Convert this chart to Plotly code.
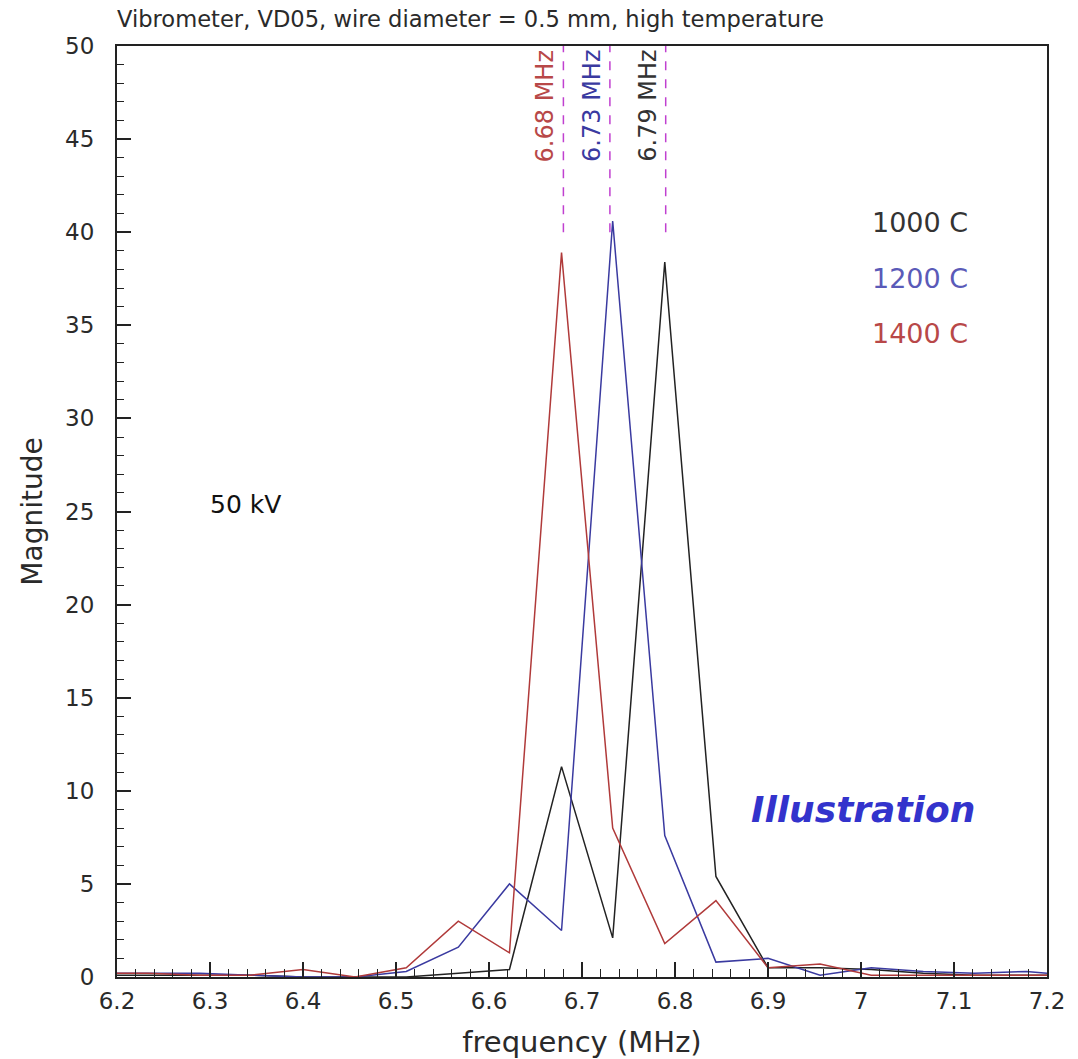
import plotly.graph_objects as go

freq = [6.2, 6.233, 6.289, 6.344, 6.4, 6.456, 6.511, 6.567, 6.622, 6.678, 6.733,
        6.789, 6.844, 6.9, 6.956, 7.011, 7.067, 7.122, 7.178, 7.2]
mag_1000 = [0.1, 0.1, 0.1, 0.1, 0.0, 0.0, 0.0, 0.2, 0.4, 11.3, 2.1, 38.4, 5.4,
            0.5, 0.5, 0.4, 0.2, 0.1, 0.1, 0.1]
mag_1200 = [0.2, 0.2, 0.2, 0.1, 0.0, 0.0, 0.3, 1.6, 5.0, 2.5, 40.6, 7.6, 0.8,
            1.0, 0.1, 0.5, 0.3, 0.2, 0.3, 0.2]
mag_1400 = [0.2, 0.2, 0.1, 0.1, 0.4, 0.0, 0.5, 3.0, 1.3, 38.9, 8.0, 1.8, 4.1,
            0.5, 0.7, 0.1, 0.1, 0.1, 0.1, 0.1]

series_names = ["1000 C", "1200 C", "1400 C"]
series_colors = ["#222222", "#3a3aa0", "#b03a3a"]
label_colors = ["#333333", "#5a5ab8", "#b84848"]

peak_freqs = [6.68, 6.73, 6.79]
peak_labels = ["6.68 MHz", "6.73 MHz", "6.79 MHz"]
peak_colors = ["#b84848", "#3a3aa0", "#333333"]

x_ticks = [6.2, 6.3, 6.4, 6.5, 6.6, 6.7, 6.8, 6.9, 7.0, 7.1, 7.2]
x_ticktext = ["6.2", "6.3", "6.4", "6.5", "6.6", "6.7", "6.8", "6.9", "7", "7.1", "7.2"]

FONT = "DejaVu Sans, Verdana, sans-serif"
TXT = "#2a2a2a"

fig = go.Figure()
for ys, name, col in zip([mag_1000, mag_1200, mag_1400], series_names, series_colors):
    fig.add_trace(go.Scatter(x=freq, y=ys, mode="lines", name=name,
                             line=dict(color=col, width=1.5), showlegend=False))

# dashed peak markers
for f in peak_freqs:
    fig.add_shape(type="line", x0=f, x1=f, y0=40, y1=50, xref="x", yref="y",
                  line=dict(color="#c040d0", width=1.5, dash="dash"))

for f, lab, col in zip(peak_freqs, peak_labels, peak_colors):
    fig.add_annotation(x=f, y=50, xref="x", yref="y", text=lab, showarrow=False,
                       textangle=-90, xanchor="right", yanchor="top", xshift=-2, yshift=-2,
                       font=dict(family=FONT, size=24, color=col))

# legend-like labels
for i, (name, col) in enumerate(zip(series_names, label_colors)):
    fig.add_annotation(x=0.917, y=[0.8295, 0.769, 0.71][i], xref="paper", yref="paper",
                       text=name, showarrow=False, xanchor="right",
                       font=dict(family=FONT, size=27, color=col))

fig.add_annotation(x=0.098, y=0.508, xref="paper", yref="paper", text="50 kV",
                   showarrow=False, xanchor="left",
                   font=dict(family=FONT, size=25, color="#111111"))

fig.add_annotation(x=0.68, y=0.156, xref="paper", yref="paper",
                   text="<b><i>Illustration</i></b>", showarrow=False, xanchor="left",
                   font=dict(family="DejaVu Sans", size=36, color="#3333cc"))

fig.update_layout(
    width=1078, height=1059,
    margin=dict(l=117, r=31, t=46, b=82),
    plot_bgcolor="white", paper_bgcolor="white",
    font=dict(family=FONT, color=TXT),
    title=dict(text="Vibrometer, VD05, wire diameter = 0.5 mm, high temperature",
               x=117 / 1078, xanchor="left", y=1 - 19 / 1059, yanchor="middle",
               font=dict(family=FONT, size=22.6, color=TXT)),
    xaxis=dict(range=[6.2, 7.2], tickvals=x_ticks, ticktext=x_ticktext,
               ticks="inside", ticklen=15, tickwidth=1.5, tickcolor="#222222",
               minor=dict(dtick=0.02, ticks="inside", ticklen=8, tickwidth=1.2,
                          tickcolor="#222222", showgrid=False),
               showline=True, linecolor="#222222", linewidth=2, mirror=True,
               showgrid=False, zeroline=False, ticklabelstandoff=2, automargin=False,
               tickfont=dict(family=FONT, size=23, color=TXT),
               title=dict(text="frequency (MHz)", standoff=20,
                          font=dict(family=FONT, size=29, color=TXT))),
    yaxis=dict(range=[0, 50], dtick=5, tick0=0,
               ticks="inside", ticklen=14, tickwidth=1.5, tickcolor="#222222",
               minor=dict(dtick=1, ticks="inside", ticklen=7, tickwidth=1.2,
                          tickcolor="#222222", showgrid=False),
               showline=True, linecolor="#222222", linewidth=2, mirror=True,
               showgrid=False, zeroline=False, ticklabelstandoff=16, automargin=False,
               tickfont=dict(family=FONT, size=23, color=TXT),
               title=dict(text="Magnitude", standoff=14,
                          font=dict(family=FONT, size=28, color=TXT))),
)

fig.write_html("out.html")
